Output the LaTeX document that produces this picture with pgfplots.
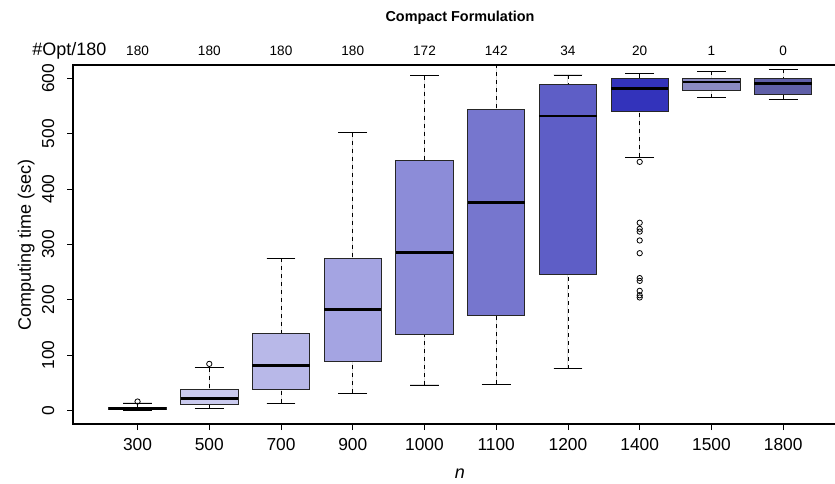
\documentclass[border=0pt]{standalone}
\usepackage{pgfplots}
\pgfplotsset{compat=1.18}
\usepgfplotslibrary{statistics}
\usepackage{fontspec}
\setmainfont{Liberation Sans}
\definecolor{c0}{HTML}{DCDCF5}
\definecolor{c1}{HTML}{CACAEE}
\definecolor{c2}{HTML}{B8B8E8}
\definecolor{c3}{HTML}{A4A4E2}
\definecolor{c4}{HTML}{8C8CD8}
\definecolor{c5}{HTML}{7676CE}
\definecolor{c6}{HTML}{5E5EC6}
\definecolor{c7}{HTML}{3333BB}
\definecolor{c8}{HTML}{8A8AC2}
\definecolor{c9}{HTML}{5F5FA8}
\begin{document}
\begin{tikzpicture}
\useasboundingbox (0,0) rectangle (626.25pt,362.25pt);
\begin{axis}[
  at={(54.75pt,44.25pt)}, anchor=south west,
  scale only axis, width=580.5pt, height=269.25pt,
  xmin=-0.9, xmax=9.89, ymin=-24.6, ymax=624,
  xtick={0,1,2,3,4,5,6,7,8,9},
  xticklabels={300,500,700,900,1000,1100,1200,1400,1500,1800},
  ytick={0,100,200,300,400,500,600},
  tick align=outside, xtick pos=left, ytick pos=left,
  major tick length=4.5pt,
  tick style={black, line width=0.6pt},
  axis line style={line width=0.8pt, black},
  /pgf/number format/assume math mode=true,
  ticklabel style={font=\fontsize{13}{15}\selectfont},
  xticklabel style={yshift=-3pt},
  yticklabel style={xshift=-6pt, rotate=90, anchor=south},
  xlabel={\textit{n}},
  ylabel={Computing time (sec)},
  every axis x label/.style={at={(axis description cs:0.5,-0.153)}, anchor=base, font=\fontsize{13.5}{16}\selectfont},
  every axis y label/.style={at={(axis description cs:-0.0543,0.5)}, rotate=90, anchor=base, font=\fontsize{13.5}{16}\selectfont},
  boxplot/draw direction=y,
  boxplot/box extend=0.8,
  boxplot/whisker extend=0.4,
  boxplot/every box/.style={draw=black!85, line width=0.7pt},
  boxplot/every median/.style={draw=black, line width=2pt},
  boxplot/draw/lower whisker/.code={%
    \draw[dash pattern=on 3pt off 3pt, line width=0.6pt, black]
      (boxplot box cs:\pgfplotsboxplotvalue{lower whisker},0.5) --
      (boxplot box cs:\pgfplotsboxplotvalue{lower quartile},0.5);
    \draw[solid, line width=0.6pt, black]
      (boxplot whisker cs:\pgfplotsboxplotvalue{lower whisker},0) --
      (boxplot whisker cs:\pgfplotsboxplotvalue{lower whisker},1);
  },
  boxplot/draw/upper whisker/.code={%
    \draw[dash pattern=on 3pt off 3pt, line width=0.6pt, black]
      (boxplot box cs:\pgfplotsboxplotvalue{upper whisker},0.5) --
      (boxplot box cs:\pgfplotsboxplotvalue{upper quartile},0.5);
    \draw[solid, line width=0.6pt, black]
      (boxplot whisker cs:\pgfplotsboxplotvalue{upper whisker},0) --
      (boxplot whisker cs:\pgfplotsboxplotvalue{upper whisker},1);
  },
]
\addplot[boxplot prepared={draw position=0, lower whisker=0, lower quartile=1, median=3, upper quartile=6, upper whisker=13.5},
  fill=c0, draw=black, mark=o, mark size=2pt, mark options={solid, line width=0.6pt}] coordinates {(0,16)};
\addplot[boxplot prepared={draw position=1, lower whisker=3, lower quartile=10, median=22, upper quartile=37, upper whisker=77},
  fill=c1, draw=black, mark=o, mark size=2pt, mark options={solid, line width=0.6pt}] coordinates {(1,84)};
\addplot[boxplot prepared={draw position=2, lower whisker=13, lower quartile=37, median=81, upper quartile=139, upper whisker=275},
  fill=c2, draw=black] coordinates {};
\addplot[boxplot prepared={draw position=3, lower whisker=31, lower quartile=89, median=182, upper quartile=274, upper whisker=502},
  fill=c3, draw=black] coordinates {};
\addplot[boxplot prepared={draw position=4, lower whisker=46, lower quartile=137, median=285, upper quartile=451, upper whisker=605},
  fill=c4, draw=black] coordinates {};
\addplot[boxplot prepared={draw position=5, lower whisker=47, lower quartile=172, median=375, upper quartile=543, upper whisker=640},
  fill=c5, draw=black] coordinates {};
\addplot[boxplot prepared={draw position=6, lower whisker=75, lower quartile=246, median=532, upper quartile=589, upper whisker=606},
  fill=c6, draw=black] coordinates {};
\addplot[boxplot prepared={draw position=7, lower whisker=457, lower quartile=540, median=581, upper quartile=600, upper whisker=608},
  fill=c7, draw=black, mark=o, mark size=2pt, mark options={solid, line width=0.6pt}]
  coordinates {(7,449) (7,339) (7,328) (7,323) (7,307) (7,284) (7,239) (7,234) (7,216) (7,208) (7,204)};
\addplot[boxplot prepared={draw position=8, lower whisker=565, lower quartile=578, median=593, upper quartile=599, upper whisker=613},
  fill=c8, draw=black] coordinates {};
\addplot[boxplot prepared={draw position=9, lower whisker=562, lower quartile=571, median=591, upper quartile=599, upper whisker=616},
  fill=c9, draw=black] coordinates {};
\coordinate (t0) at (axis cs:0,641);
\coordinate (t1) at (axis cs:1,641);
\coordinate (t2) at (axis cs:2,641);
\coordinate (t3) at (axis cs:3,641);
\coordinate (t4) at (axis cs:4,641);
\coordinate (t5) at (axis cs:5,641);
\coordinate (t6) at (axis cs:6,641);
\coordinate (t7) at (axis cs:7,641);
\coordinate (t8) at (axis cs:8,641);
\coordinate (t9) at (axis cs:9,641);
\coordinate (tl) at (axis cs:-0.43,641);
\coordinate (ttl) at (axis cs:4.495,702);
\end{axis}
\foreach \i/\v in {0/180,1/180,2/180,3/180,4/172,5/142,6/34,7/20,8/1,9/0}{
  \node[anchor=base, inner sep=0pt, font=\fontsize{10.2}{12}\selectfont] at (t\i) {\v};
}
\node[anchor=base east, inner sep=0pt, font=\fontsize{13.5}{16}\selectfont] at (tl) {\#Opt/180};
\node[anchor=base, inner sep=0pt, font=\bfseries\fontsize{10.8}{13}\selectfont] at (ttl) {Compact Formulation};
\end{tikzpicture}
\end{document}
